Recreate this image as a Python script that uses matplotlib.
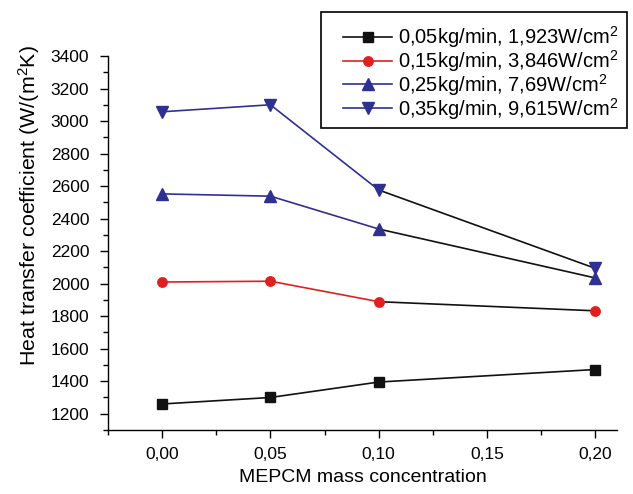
import matplotlib
matplotlib.use("Agg")
import matplotlib.pyplot as plt
from matplotlib.ticker import MultipleLocator, FixedLocator, FixedFormatter
from matplotlib.lines import Line2D
from matplotlib.patches import Rectangle

plt.rcParams['font.family'] = ['Liberation Sans', 'DejaVu Sans']
plt.rcParams['mathtext.fontset'] = 'custom'
plt.rcParams['mathtext.rm'] = 'Liberation Sans'
plt.rcParams['mathtext.it'] = 'Liberation Sans:italic'
plt.rcParams['mathtext.bf'] = 'Liberation Sans:bold'

conc = [0.00, 0.05, 0.10, 0.20]
s1 = [1260, 1300, 1395, 1472]
s2 = [2010, 2015, 1889, 1833]
s3 = [2552, 2538, 2336, 2035]
s4 = [3057, 3100, 2576, 2094]
labels = ["0,05kg/min, 1,923W/cm$^2$", "0,15kg/min, 3,846W/cm$^2$",
          "0,25kg/min, 7,69W/cm$^2$", "0,35kg/min, 9,615W/cm$^2$"]
xticks = [0.00, 0.05, 0.10, 0.15, 0.20]
xticklabels = ["0,00", "0,05", "0,10", "0,15", "0,20"]
yticks = [1200, 1400, 1600, 1800, 2000, 2200, 2400, 2600, 2800, 3000, 3200, 3400]

colors = ['#111111', '#e0201f', '#2e3192', '#2e3192']
markers = ['s', 'o', '^', 'v']
msizes = [6.5, 6.8, 8, 8]
series = [s1, s2, s3, s4]

W, H = 633, 494
fig = plt.figure(figsize=(W / 100, H / 100), dpi=100)
ax = fig.add_axes([108 / W, 1 - 430 / H, (617 - 108) / W, (430 - 56) / H])

handles = []
for y, c, m, ms, lab in zip(series, colors, markers, msizes, labels):
    ax.plot(conc[:3], y[:3], color=c, lw=1.2, zorder=2)
    ax.plot(conc[2:], y[2:], color='#111111', lw=1.2, zorder=2)
    ax.plot(conc, y, ls='none', marker=m, ms=ms, color=c, mec=c, zorder=3)
    handles.append(Line2D([], [], color=c, lw=1.2, marker=m, ms=ms, mec=c, label=lab))

ax.set_xlim(-0.025, 0.21)
ax.set_ylim(1100, 3400)
ax.xaxis.set_major_locator(FixedLocator(xticks))
ax.xaxis.set_major_formatter(FixedFormatter(xticklabels))
ax.xaxis.set_minor_locator(MultipleLocator(0.025))
ax.yaxis.set_major_locator(FixedLocator(yticks))
ax.yaxis.set_minor_locator(MultipleLocator(100))
ax.tick_params(which='both', direction='out', labelsize=12.5, width=1)
ax.tick_params(which='major', length=5.5)
ax.tick_params(which='minor', length=3.5)
ax.tick_params(axis='x', pad=7)
ax.tick_params(axis='y', pad=8)
for sp in ['top', 'right']:
    ax.spines[sp].set_visible(False)
for sp in ['left', 'bottom']:
    ax.spines[sp].set_linewidth(1)

ax.set_xlabel("MEPCM mass concentration", fontsize=14, labelpad=5)
fig.text(29 / W, 1 - 206 / H, "Heat transfer coefficient (W/(m$^2$K)", fontsize=15.4,
         rotation=90, ha='center', va='center')

# legend frame
fig.patches.append(Rectangle((321 / W, 1 - 128 / H), (627 - 321) / W, (128 - 12) / H,
                             transform=fig.transFigure, fill=True, facecolor='white',
                             edgecolor='black', lw=1.2, zorder=5))
leg = fig.legend(handles=handles, loc='upper left', bbox_to_anchor=(343 / W, 1 - 24 / H),
                 fontsize=14.5, frameon=False, borderpad=0, labelspacing=-0.1,
                 handlelength=2.45, handletextpad=0.3, borderaxespad=0)
leg.set_zorder(6)

fig.savefig("out.png", dpi=100)
